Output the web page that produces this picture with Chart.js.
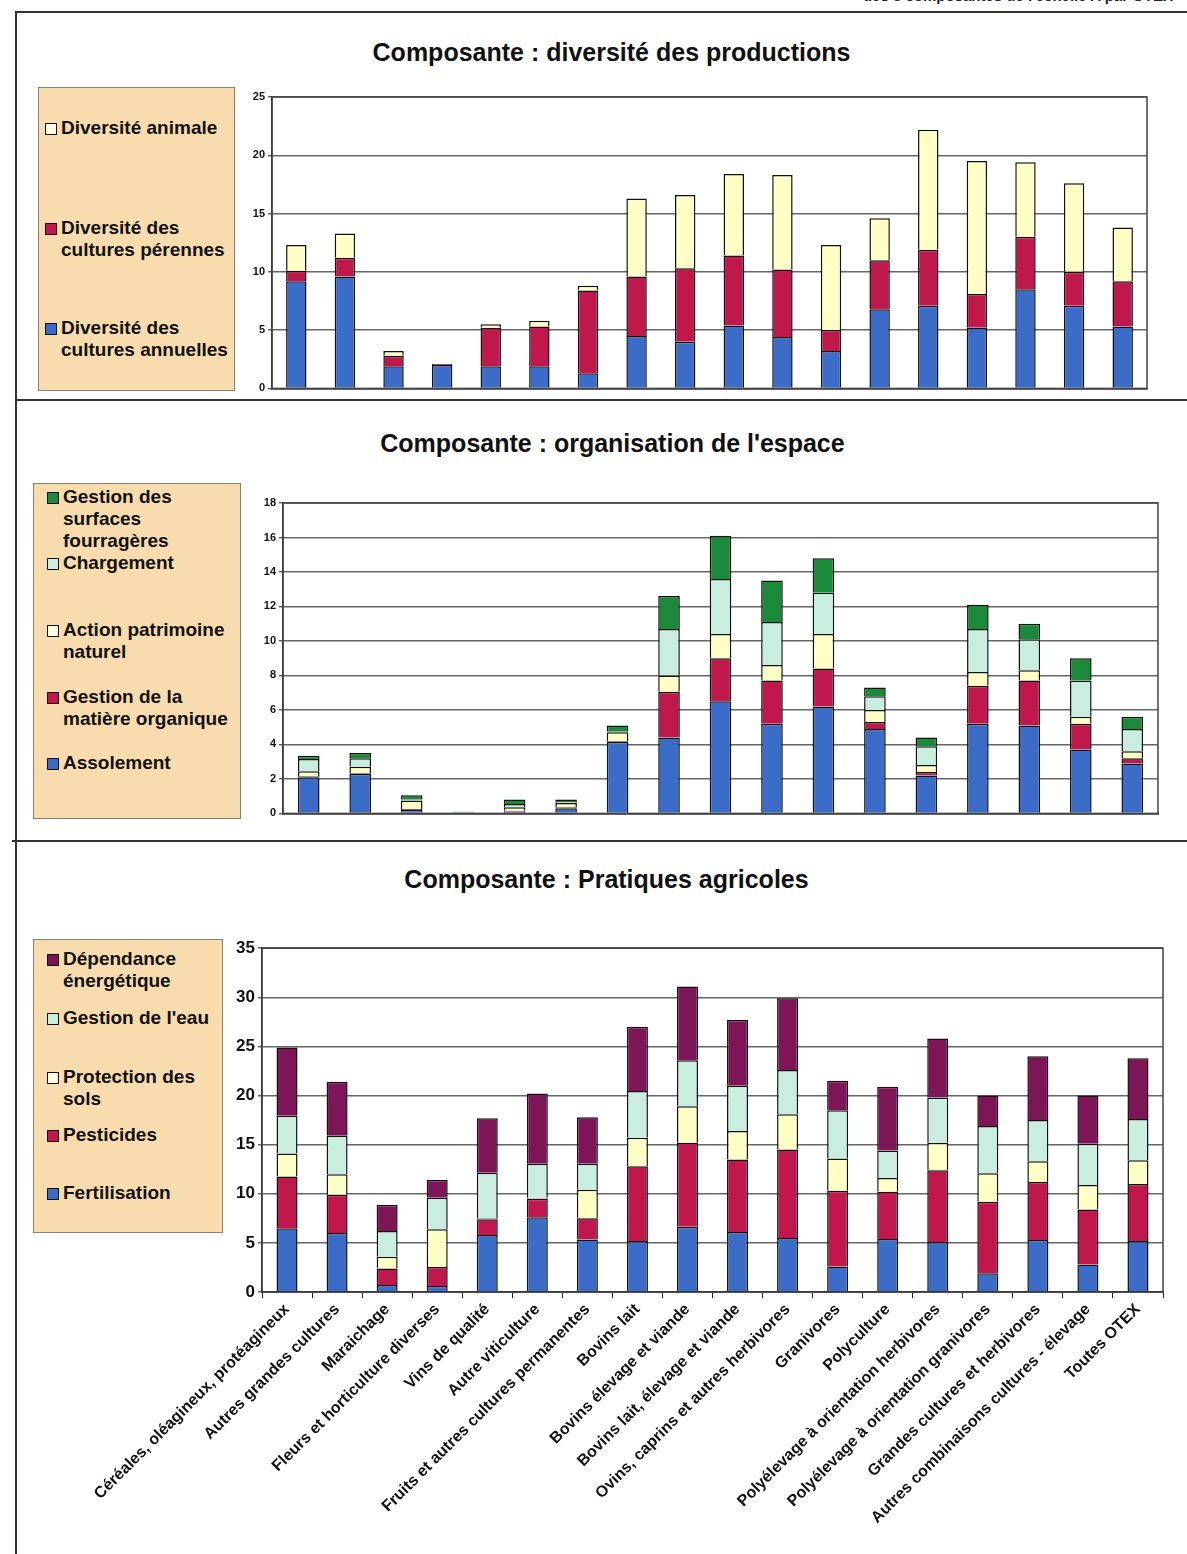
<!DOCTYPE html>
<html>
<head>
<meta charset="utf-8">
<script src="https://cdn.jsdelivr.net/npm/chart.js@4.4.1/dist/chart.umd.min.js"></script>
<style>
  body { margin: 0; width: 1187px; height: 1554px; position: relative; overflow: hidden; background: #fff;
         font-family: "Liberation Sans", Arial, sans-serif; }
  .abs { position: absolute; }
  .rule { position: absolute; background: #333; }
  .title { position: absolute; width: 1187px; text-align: center; font-weight: bold; font-size: 25px; color: #111; }
  .legend { position: absolute; background: #f9dcae; border: 1.5px solid #8a8070; box-sizing: border-box; }
  .item { position: absolute; font-weight: bold; font-size: 19px; line-height: 22px; color: #111; white-space: nowrap; }
  .sw { position: absolute; width: 10px; height: 10px; border: 1.5px solid #111; }
  .box { position: absolute; }
</style>
</head>
<body>

<div class="abs" style="top:-13px;right:14px;font-weight:bold;font-size:15px;color:#222">des 3 composantes de l'échelle A par OTEX</div>
<div class="rule" style="left:15px;top:11px;width:1172px;height:2px"></div>
<div class="rule" style="left:15px;top:11px;width:2px;height:1543px"></div>
<div class="rule" style="left:15px;top:399px;width:1172px;height:2px"></div>
<div class="rule" style="left:12px;top:840px;width:1175px;height:2px"></div>

<div class="title" style="top:38px;left:18px">Composante : diversité des productions</div>
<div class="title" style="top:429px;left:19px">Composante : organisation de l'espace</div>
<div class="title" style="top:865px;left:13px">Composante : Pratiques agricoles</div>

<div class="legend" id="leg1" style="left:38px;top:87px;width:197px;height:304px"></div>
<div class="legend" id="leg2" style="left:33px;top:483px;width:208px;height:336px"></div>
<div class="legend" id="leg3" style="left:33px;top:939px;width:190px;height:294px"></div>

<div class="box" style="left:232px;top:85px;width:930px;height:313px"><canvas id="c1"></canvas></div>
<div class="box" style="left:240px;top:490px;width:930px;height:333px"><canvas id="c2"></canvas></div>
<div class="box" style="left:40px;top:935px;width:1135px;height:615px"><canvas id="c3"></canvas></div>

<script>
// categories (OTEX)
const otex = [
  "Céréales, oléagineux, protéagineux", "Autres grandes cultures", "Maraichage",
  "Fleurs et horticulture diverses", "Vins de qualité", "Autre viticulture",
  "Fruits et autres cultures permanentes", "Bovins lait", "Bovins élevage et viande",
  "Bovins lait, élevage et viande", "Ovins, caprins et autres herbivores", "Granivores",
  "Polyculture", "Polyélevage à orientation herbivores", "Polyélevage à orientation granivores",
  "Grandes cultures et herbivores", "Autres combinaisons cultures - élevage", "Toutes OTEX"
];
// the middle panel only shows 17 bars
const otexEspace = otex.filter(function (o) { return o !== "Polyculture"; });

// Composante : diversité des productions
const divAnnuelles = [9.2, 9.6, 1.9, 2.0, 1.9, 1.9, 1.3, 4.5, 4.0, 5.4, 4.4, 3.2, 6.8, 7.1, 5.2, 8.5, 7.1, 5.3];
const divPerennes  = [0.9, 1.6, 0.9, 0.1, 3.3, 3.4, 7.1, 5.1, 6.3, 6.0, 5.8, 1.8, 4.2, 4.8, 2.9, 4.5, 2.9, 3.9];
const divAnimale   = [2.2, 2.1, 0.4, 0.0, 0.3, 0.5, 0.4, 6.7, 6.3, 7.0, 8.1, 7.3, 3.6, 10.3, 11.4, 6.4, 7.6, 4.6];
const ticks1 = [0, 5, 10, 15, 20, 25];

// Composante : organisation de l'espace
const assolement  = [2.1, 2.3, 0.2, 0.05, 0.1, 0.3, 4.15, 4.4, 6.5, 5.2, 6.2, 4.9, 2.2, 5.2, 5.1, 3.7, 2.9];
const matiereOrg  = [0.05, 0.05, 0.05, 0.0, 0.05, 0.05, 0.05, 2.65, 2.5, 2.5, 2.2, 0.4, 0.2, 2.2, 2.6, 1.5, 0.3];
const patrimoine  = [0.3, 0.35, 0.5, 0.0, 0.2, 0.25, 0.5, 0.95, 1.4, 0.9, 2.0, 0.7, 0.4, 0.8, 0.6, 0.4, 0.4];
const chargement  = [0.7, 0.5, 0.05, 0.0, 0.2, 0.05, 0.05, 2.7, 3.2, 2.5, 2.4, 0.8, 1.1, 2.5, 1.8, 2.1, 1.3];
const fourrageres = [0.2, 0.3, 0.25, 0.05, 0.25, 0.15, 0.35, 1.9, 2.5, 2.4, 2.0, 0.5, 0.5, 1.4, 0.9, 1.3, 0.7];
const ticks2 = [0, 2, 4, 6, 8, 10, 12, 14, 16, 18];

// Composante : Pratiques agricoles
const fertilisation  = [6.5, 6.0, 0.7, 0.6, 5.8, 7.6, 5.35, 5.2, 6.65, 6.1, 5.5, 2.6, 5.4, 5.1, 1.9, 5.3, 2.8, 5.2];
const pesticides     = [5.25, 3.9, 1.7, 1.95, 1.6, 1.9, 2.15, 7.6, 8.55, 7.4, 9.0, 7.7, 4.8, 7.3, 7.3, 5.9, 5.6, 5.8];
const protectionSols = [2.35, 2.1, 1.2, 3.85, 0.1, 0.1, 2.9, 2.9, 3.7, 2.9, 3.6, 3.3, 1.4, 2.8, 2.9, 2.1, 2.5, 2.4];
const gestionEau     = [3.85, 3.9, 2.6, 3.2, 4.65, 3.45, 2.65, 4.75, 4.7, 4.6, 4.5, 4.9, 2.8, 4.6, 4.8, 4.2, 4.2, 4.2];
const dependance     = [6.95, 5.5, 2.65, 1.8, 5.55, 7.15, 4.75, 6.55, 7.5, 6.7, 7.3, 3.0, 6.5, 6.0, 3.1, 6.5, 4.9, 6.2];
const ticks3 = [0, 5, 10, 15, 20, 25, 30, 35];

const BLUE = "#3b6cc8", RED = "#c0184c", YELLOW = "#ffffc6", CYAN = "#c9eedf", GREEN = "#1a8a3a", PURPLE = "#7d1556";

function ds(label, data, color) {
  return { label: label, data: data, backgroundColor: color, borderColor: "#111", borderWidth: 1.5,
           barPercentage: 0.42, categoryPercentage: 1.0 };
}

// box round the plot area
const frame = {
  id: "frame",
  afterDraw: function (chart) {
    const a = chart.chartArea, ctx = chart.ctx;
    ctx.save();
    ctx.strokeStyle = "#444";
    ctx.lineWidth = 1.5;
    ctx.strokeRect(a.left, a.top, a.right - a.left, a.bottom - a.top);
    ctx.restore();
  }
};

function makeChart(id, labels, datasets, tickVals, opts) {
  const step = tickVals[1] - tickVals[0];
  return new Chart(document.getElementById(id), {
    type: "bar",
    data: { labels: labels, datasets: datasets },
    plugins: [frame],
    options: {
      responsive: true,
      maintainAspectRatio: false,
      animation: false,
      layout: { padding: opts.padding },
      plugins: { legend: { display: false }, tooltip: { enabled: false } },
      scales: {
        x: {
          stacked: true,
          grid: opts.xTicks
            ? { display: true, drawOnChartArea: false, drawTicks: true, tickLength: 6, color: "#222", lineWidth: 1 }
            : { display: false },
          border: { display: true, color: "#222", width: 1.5 },
          ticks: opts.xTicks
            ? { display: true, autoSkip: false, minRotation: 45, maxRotation: 45, padding: 2, color: "#111",
                font: { family: "Liberation Sans", weight: "bold", size: 16 } }
            : { display: false },
          afterFit: function (s) { s.height = opts.xHeight; }
        },
        y: {
          stacked: true,
          min: tickVals[0],
          max: tickVals[tickVals.length - 1],
          grid: { color: "#666", lineWidth: 1.5, drawTicks: true, tickLength: 4 },
          border: { display: true, color: "#222", width: 1.5 },
          ticks: { stepSize: step, padding: 3, color: "#111",
                   font: { family: "Liberation Sans", weight: "bold", size: opts.yFont } },
          afterFit: function (s) { s.width = opts.yWidth; }
        }
      }
    }
  });
}

makeChart("c1", otex, [
  ds("Diversité des cultures annuelles", divAnnuelles, BLUE),
  ds("Diversité des cultures pérennes", divPerennes, RED),
  ds("Diversité animale", divAnimale, YELLOW)
], ticks1, { padding: { top: 12, right: 15, bottom: 8, left: 0 }, yWidth: 40, yFont: 11, xHeight: 0, xTicks: false });

makeChart("c2", otexEspace, [
  ds("Assolement", assolement, BLUE),
  ds("Gestion de la matière organique", matiereOrg, RED),
  ds("Action patrimoine naturel", patrimoine, YELLOW),
  ds("Chargement", chargement, CYAN),
  ds("Gestion des surfaces fourragères", fourrageres, GREEN)
], ticks2, { padding: { top: 13, right: 12, bottom: 8, left: 0 }, yWidth: 43, yFont: 11, xHeight: 0, xTicks: false });

makeChart("c3", otex, [
  ds("Fertilisation", fertilisation, BLUE),
  ds("Pesticides", pesticides, RED),
  ds("Protection des sols", protectionSols, YELLOW),
  ds("Gestion de l'eau", gestionEau, CYAN),
  ds("Dépendance énergétique", dependance, PURPLE)
], ticks3, { padding: { top: 11, right: 12, bottom: 0, left: 0 }, yWidth: 222, yFont: 17, xHeight: 258, xTicks: true });

// legends: [lines, colour, top of first line (relative to box)]
const legend1 = [
  [["Diversité animale"], "#fffbe6", 29],
  [["Diversité des", "cultures pérennes"], RED, 129],
  [["Diversité des", "cultures annuelles"], BLUE, 229]
];
const legend2 = [
  [["Gestion des", "surfaces", "fourragères"], GREEN, 2],
  [["Chargement"], CYAN, 68],
  [["Action patrimoine", "naturel"], "#fffbe6", 135],
  [["Gestion de la", "matière organique"], RED, 202],
  [["Assolement"], BLUE, 268]
];
const legend3 = [
  [["Dépendance", "énergétique"], PURPLE, 8],
  [["Gestion de l'eau"], CYAN, 67],
  [["Protection des", "sols"], "#fffbe6", 126],
  [["Pesticides"], RED, 184],
  [["Fertilisation"], BLUE, 242]
];

function fillLegend(id, items, swLeft) {
  const box = document.getElementById(id);
  items.forEach(function (it) {
    const sw = document.createElement("div");
    sw.className = "sw";
    sw.style.left = swLeft + "px";
    sw.style.top = (it[2] + 6) + "px";
    sw.style.background = it[1];
    box.appendChild(sw);
    const t = document.createElement("div");
    t.className = "item";
    t.style.left = (swLeft + 16) + "px";
    t.style.top = it[2] + "px";
    t.innerHTML = it[0].join("<br>");
    box.appendChild(t);
  });
}
fillLegend("leg1", legend1, 6);
fillLegend("leg2", legend2, 13);
fillLegend("leg3", legend3, 13);
</script>
</body>
</html>
